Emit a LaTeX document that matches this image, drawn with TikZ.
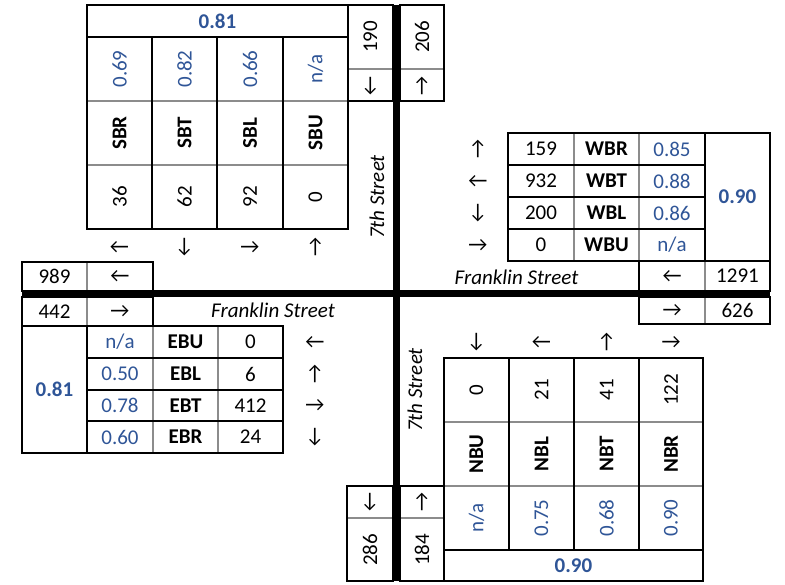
\documentclass[tikz,border=0pt]{standalone}
\usepackage{fontspec}
\setmainfont{Carlito}
\newfontfamily\arrfont{Carlito}
\definecolor{valblue}{RGB}{47,85,151}
\definecolor{linegray}{RGB}{140,140,140}
\newcommand\fsz{\fontsize{21}{24}\selectfont}
\tikzset{
  base/.style={font=\fsz, inner sep=0pt},
  val/.style={font=\fsz, text=valblue, inner sep=0pt},
  bval/.style={font=\fsz\bfseries, text=valblue, inner sep=0pt},
  lab/.style={font=\fsz\bfseries, inner sep=0pt},
  arr/.style={font=\fsz\arrfont, inner sep=0pt},
  street/.style={font=\fsz\itshape, inner sep=0pt},
  rot/.style={rotate=90},
  blk/.style={line width=2.7pt, black},
  gry/.style={line width=2pt, linegray},
  road/.style={line width=7pt, black},
}
\begin{document}
\begin{tikzpicture}[x=1pt,y=-1pt]
\useasboundingbox (0,0) rectangle (785,585);

% ---------------- SB block (top left) ----------------
\draw[gry] (87,101) -- (348,101) (87,165) -- (348,165);
\draw[blk] (87,5) rectangle (348,229);
\draw[blk] (87,37) -- (348,37);
\draw[blk] (152,37) -- (152,229) (217,37) -- (217,229) (283,37) -- (283,229);
\node[bval] (sbphf) at (217.5,21) {0.81};
\foreach \x/\v/\l/\n/\a [count=\i] in {119.5/0.69/SBR/36/←, 184.5/0.82/SBT/62/↓, 250/0.66/SBL/92/→, 315.5/n\slash a/SBU/0/↑}{
  \node[val,rot] (sbv\i) at (\x,69) {\v};
  \node[lab,rot] (sbl\i) at (\x,133) {\l};
  \node[base,rot] (sbn\i) at (\x,197) {\n};
  \node[arr] (sba\i) at (\x,247) {\a};
}
% 190 / 206 boxes
\draw[gry] (348,69) -- (393,69) (400,69) -- (444,69);
\draw[blk] (348,5) rectangle (393,101);
\draw[blk] (400,5) rectangle (444,101);
\node[base,rot] (sbout) at (370.5,37) {190};
\node[arr] (sbouta) at (370.5,86) {↓};
\node[base,rot] (nbout) at (422,37) {206};
\node[arr] (nbouta) at (422,86) {↑};
\node[street,rot] (st7a) at (377,197) {7th Street};

% ---------------- WB block (top right) ----------------
\draw[gry] (574,133) -- (574,261) (639,133) -- (639,261);
\draw[blk] (508,133) rectangle (770,261);
\draw[blk] (508,165) -- (705,165) (508,197) -- (705,197) (508,229) -- (705,229);
\draw[blk] (705,133) -- (705,261);
\node[bval] (wbphf) at (737.5,197) {0.90};
\foreach \y/\a/\n/\l/\v [count=\i] in {149/↑/159/WBR/0.85, 181/←/932/WBT/0.88, 213/↓/200/WBL/0.86, 245/→/0/WBU/n\slash a}{
  \node[arr] (wba\i) at (478,\y) {\a};
  \node[base] (wbn\i) at (541,\y) {\n};
  \node[lab] (wbl\i) at (606.5,\y) {\l};
  \node[val] (wbv\i) at (672,\y) {\v};
}
% 1291 / 626 boxes
\draw[gry] (705,261) -- (705,291) (705,297) -- (705,324);
\draw[blk] (639,261) rectangle (770,291);
\draw[blk] (639,297) rectangle (770,324);
\node[arr] (wbina) at (672,276) {←};
\node[base] (wbin) at (737.5,276) {1291};
\node[arr] (ebouta) at (672,310.5) {→};
\node[base] (ebout) at (737.5,310.5) {626};
\node[street] (frka) at (516.5,277) {Franklin Street};

% ---------------- EB block (bottom left) ----------------
\draw[gry] (87,262) -- (87,291) (87,297) -- (87,326);
\draw[blk] (22,262) rectangle (153,291);
\draw[blk] (22,297) rectangle (153,326);
\node[base] (wbout) at (54.5,276.5) {989};
\node[arr] (wbouta) at (120,276.5) {←};
\node[base] (ebin) at (54.5,311.5) {442};
\node[arr] (ebina) at (120,311.5) {→};
\draw[gry] (153,326) -- (153,453) (218,326) -- (218,453);
\draw[blk] (22,326) rectangle (283,453);
\draw[blk] (87,326) -- (87,453);
\draw[blk] (87,358) -- (283,358) (87,390) -- (283,390) (87,421) -- (283,421);
\node[bval] (ebphf) at (54.5,389.5) {0.81};
\foreach \y/\v/\l/\n/\a [count=\i] in {342/n\slash a/EBU/0/←, 374/0.50/EBL/6/↑, 405.5/0.78/EBT/412/→, 437/0.60/EBR/24/↓}{
  \node[val] (ebv\i) at (120,\y) {\v};
  \node[lab] (ebl\i) at (185.5,\y) {\l};
  \node[base] (ebn\i) at (250.5,\y) {\n};
  \node[arr] (eba\i) at (315,\y) {\a};
}
\node[street] (frkb) at (273,310) {Franklin Street};

% ---------------- NB block (bottom right) ----------------
\draw[gry] (444,422) -- (703,422) (444,486) -- (703,486);
\draw[blk] (444,358) rectangle (703,581);
\draw[blk] (444,550) -- (703,550);
\draw[blk] (509,358) -- (509,550) (574,358) -- (574,550) (639,358) -- (639,550);
\node[bval] (nbphf) at (573.5,566) {0.90};
\foreach \x/\a/\n/\l/\v [count=\i] in {476.5/↓/0/NBU/n\slash a, 541.5/←/21/NBL/0.75, 606.5/↑/41/NBT/0.68, 671/→/122/NBR/0.90}{
  \node[arr] (nba\i) at (\x,342) {\a};
  \node[base,rot] (nbn\i) at (\x,390) {\n};
  \node[lab,rot] (nbl\i) at (\x,454) {\l};
  \node[val,rot] (nbv\i) at (\x,518) {\v};
}
% 286 / 184 boxes
\draw[gry] (347,518) -- (393,518) (400,518) -- (444,518);
\draw[blk] (347,486) rectangle (393,581);
\draw[blk] (400,486) rectangle (444,581);
\node[arr] (sbina) at (370,502) {↓};
\node[base,rot] (sbin) at (370,550) {286};
\node[arr] (nbina) at (422,502) {↑};
\node[base,rot] (nbin) at (422,550) {184};
\node[street,rot] (st7b) at (415,390) {7th Street};

% ---------------- roads ----------------
\draw[road] (396,5) -- (396,581);
\draw[road] (22,294) -- (770,294);
\end{tikzpicture}
\end{document}
